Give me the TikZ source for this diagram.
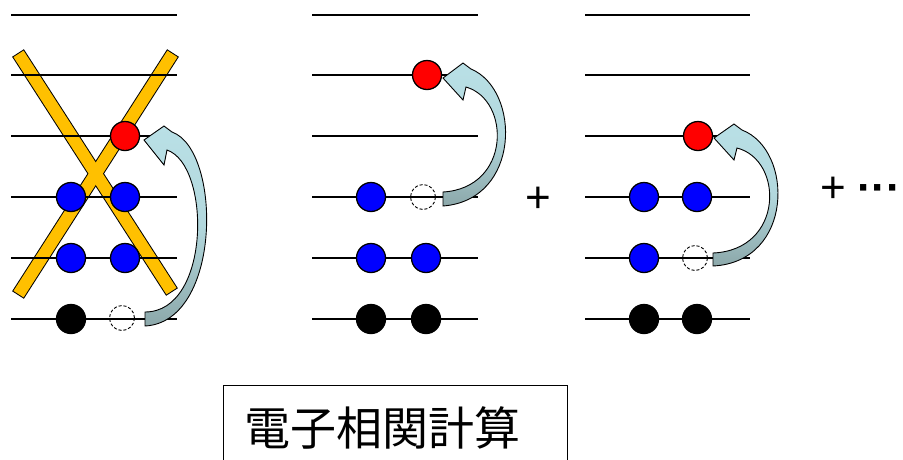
\documentclass[tikz,border=0pt]{standalone}
\usepackage{fontspec}
\setmainfont{Liberation Sans}
\newfontfamily\cjk{Noto Sans CJK JP}
\definecolor{xorange}{HTML}{FFC000}
\definecolor{arrowlight}{HTML}{B9E0E6}
\definecolor{arrowdark}{HTML}{8CA8AA}
\begin{document}
\begin{tikzpicture}[x=1pt,y=-1pt,
  lvl/.style={line width=1.3pt},
  el/.style={circle,draw=black,line width=1.3pt,minimum size=29pt,inner sep=0pt},
  hole/.style={circle,draw=black,line width=0.9pt,dash pattern=on 3pt off 2pt,minimum size=25pt,inner sep=0pt},
  carrow/.style={draw=black,line width=0.9pt,top color=arrowlight,bottom color=arrowdark,middle color=arrowlight!85!arrowdark},
  band/.style={line width=14pt,draw=black},
  bandfill/.style={line width=12pt,draw=xorange,shorten >=1pt,shorten <=1pt},
  bigtxt/.style={font=\fontsize{44}{44}\selectfont,anchor=base,inner sep=0pt}
]
\useasboundingbox (0,0) rectangle (903,459);
\clip (0,0) rectangle (903,459);

% crossed-out bands (panel 1)
\coordinate (b1a) at (18,53);  \coordinate (b1b) at (172,292);
\coordinate (b2a) at (173,53); \coordinate (b2b) at (18,295);
\draw[band] (b1a) -- (b1b);
\draw[band] (b2a) -- (b2b);
\draw[bandfill] (b1a) -- (b1b);
\draw[bandfill] (b2a) -- (b2b);

% levels
\foreach \y in {15,75,136,197,258,319}{
  \draw[lvl] (11,\y) -- (177,\y);
  \draw[lvl] (312,\y) -- (478,\y);
  \draw[lvl] (585,\y) -- (750,\y);
}

% panel 1 electrons
\node[el,fill=red]   (a1) at (125,136) {};
\node[el,fill=blue]  (a2) at (71,197) {};
\node[el,fill=blue]  (a3) at (125,197) {};
\node[el,fill=blue]  (a4) at (71,258) {};
\node[el,fill=blue]  (a5) at (125,258) {};
\node[el,fill=black] (a6) at (71,319) {};
\node[hole]          (ah) at (122,318) {};

% panel 2 electrons
\node[el,fill=red]   (b1) at (427,75) {};
\node[el,fill=blue]  (b2) at (371,197) {};
\node[hole]          (bh) at (423,197) {};
\node[el,fill=blue]  (b4) at (371,258) {};
\node[el,fill=blue]  (b5) at (426,258) {};
\node[el,fill=black] (b6) at (371,319) {};
\node[el,fill=black] (b7) at (426,319) {};

% panel 3 electrons
\node[el,fill=red]   (c1) at (698,136) {};
\node[el,fill=blue]  (c2) at (644,197) {};
\node[el,fill=blue]  (c3) at (697,197) {};
\node[el,fill=blue]  (c4) at (644,258) {};
\node[hole]          (ch) at (695,258) {};
\node[el,fill=black] (c6) at (644,319) {};
\node[el,fill=black] (c7) at (697,319) {};

% curved block arrows
\path[carrow] (145,326) .. controls (222,322) and (222,150) .. (172,132)
  -- (164,126) -- (144,140) -- (164,165) -- (167,150)
  .. controls (211,165) and (211,312) .. (145,312) -- cycle;
\path[carrow] (443,206) .. controls (521,200) and (521,90) .. (471,69)
  -- (463,63) -- (443,78) -- (463,100) -- (466,87)
  .. controls (511,100) and (511,188) .. (443,192) -- cycle;
\path[carrow] (713,266) .. controls (794,262) and (794,150) .. (742,130)
  -- (734,124) -- (714,138) -- (734,160) -- (737,148)
  .. controls (784,160) and (784,250) .. (713,253) -- cycle;

% plus signs
\node[bigtxt] (plus1) at (538.5,212) {+};
\node[bigtxt] (plus2) at (833.5,202) {+};
\node[bigtxt,anchor=base west,font=\bfseries\fontsize{44}{44}\selectfont] (dots) at (857,202) {···};

% label box
\draw[line width=1pt] (223,385) rectangle (567,480);
\node[font=\cjk\fontsize{46}{46}\selectfont,anchor=west,inner sep=0pt] (lbl) at (244,428) {電子相関計算};
\end{tikzpicture}
\end{document}
